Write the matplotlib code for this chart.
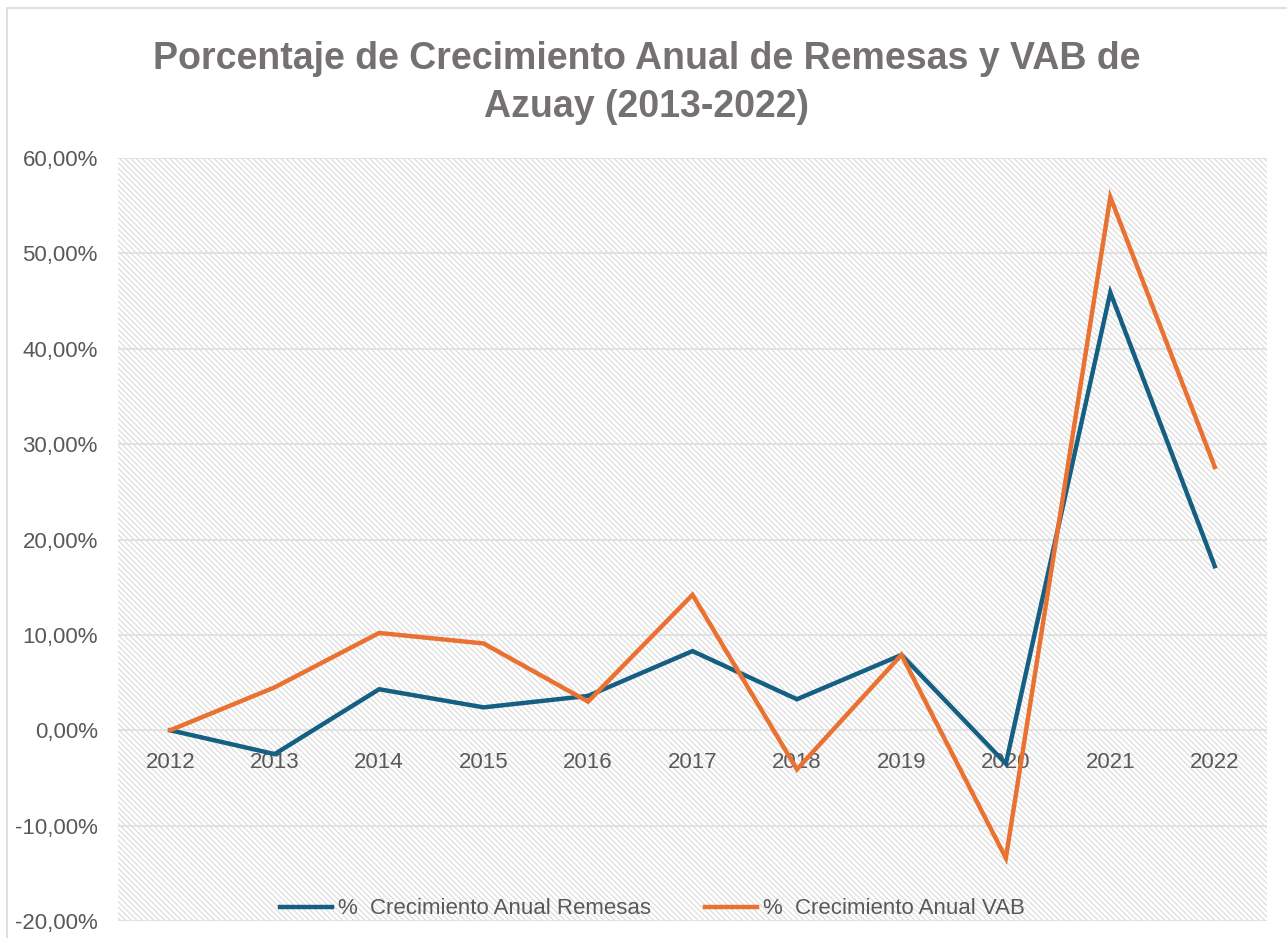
import matplotlib
matplotlib.use("Agg")
import matplotlib.pyplot as plt
from matplotlib.patches import Rectangle
from matplotlib.ticker import FuncFormatter

years = ["2012", "2013", "2014", "2015", "2016", "2017", "2018", "2019", "2020", "2021", "2022"]
remesas = [0.0, -2.5, 4.3, 2.4, 3.6, 8.3, 3.25, 7.9, -3.5, 45.9, 17.2]
vab = [0.0, 4.5, 10.2, 9.1, 3.0, 14.2, -4.1, 7.9, -13.4, 55.9, 27.6]
label_rem = "%  Crecimiento Anual Remesas"
label_vab = "%  Crecimiento Anual VAB"
title = "Porcentaje de Crecimiento Anual de Remesas y VAB de\nAzuay (2013-2022)"

plt.rcParams['font.family'] = ['Liberation Sans', 'DejaVu Sans']
plt.rcParams['hatch.linewidth'] = 0.8

W, H = 1287, 938
fig = plt.figure(figsize=(W / 100, H / 100), dpi=100)
fig.patch.set_facecolor('white')
# chart border
fig.add_artist(Rectangle((7 / W, -0.1), 1.2, 1 - 8 / H + 0.1, transform=fig.transFigure,
                         facecolor='none', edgecolor='#d9d9d9', linewidth=1.2))

left, right = 118 / W, 1267 / W
top, bottom = 1 - 158 / H, 1 - 921 / H
ax = fig.add_axes([left, bottom, right - left, top - bottom])
ax.set_facecolor('white')
ax.add_patch(Rectangle((0, 0), 1, 1, transform=ax.transAxes, facecolor='white',
                       edgecolor='#dadada', hatch='\\\\\\\\\\\\', linewidth=0, zorder=0))

x = list(range(len(years)))
ax.plot(x, remesas, color='#156082', lw=3.2, label=label_rem, zorder=3, solid_joinstyle='miter')
ax.plot(x, vab, color='#E97132', lw=3.2, label=label_vab, zorder=3, solid_joinstyle='miter')

ax.set_xlim(-0.5, len(years) - 0.5)
ax.set_ylim(-20, 60)
ax.set_yticks(range(-20, 61, 10))
ax.yaxis.set_major_formatter(FuncFormatter(lambda v, p: f"{v:.2f}%".replace('.', ',')))
ax.grid(axis='y', color='#e0e0e0', lw=1.3, zorder=1)
ax.set_axisbelow(True)
for s in ax.spines.values():
    s.set_visible(False)
ax.spines['bottom'].set_position(('data', 0))
ax.set_xticks(x)
ax.set_xticklabels(years)
ax.tick_params(axis='both', length=0, labelsize=16, colors='#595959')
ax.tick_params(axis='x', pad=16)
ax.tick_params(axis='y', pad=14.5)

fig.text(0.5 * (7 / W + 1), 1 - 83 / H, title, ha='center', va='center', fontsize=27,
         fontweight='bold', color='#767171', linespacing=1.42)

leg = ax.legend(loc='lower center', bbox_to_anchor=(0.465, -0.024), ncol=2, frameon=False,
                fontsize=16, handlelength=2.35, columnspacing=2.45, handletextpad=0.25)
for t in leg.get_texts():
    t.set_color('#595959')

fig.savefig('out.png', dpi=100, facecolor='white')
